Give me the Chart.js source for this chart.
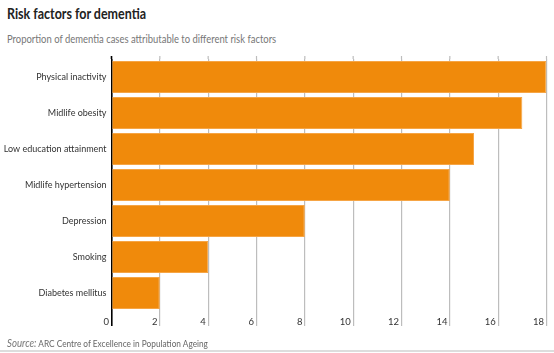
<!DOCTYPE html>
<html><head><meta charset="utf-8">
<script src="https://cdn.jsdelivr.net/npm/chart.js@4"></script>
<style>
html,body{margin:0;padding:0;background:#fff;}
body{width:554px;height:353px;position:relative;overflow:hidden;font-family:Lato,sans-serif;}
#title{position:absolute;left:7px;top:5px;font-size:14.5px;font-weight:bold;color:#222;transform:scaleX(0.86);transform-origin:0 0;white-space:nowrap;}
#sub{position:absolute;left:7px;top:33px;font-size:10.5px;color:#777;transform:scaleX(0.9);transform-origin:0 0;white-space:nowrap;}
#src{position:absolute;left:7px;top:337px;font-size:9px;color:#666;transform:scaleX(0.92);transform-origin:0 0;white-space:nowrap;}
#src i{font-size:10.5px;color:#777;}
#line{position:absolute;left:0;top:350px;width:554px;height:2px;background:#ddd;}
canvas{position:absolute;left:0;top:0;}
</style></head><body>
<div id="title">Risk factors for dementia</div>
<div id="sub">Proportion of dementia cases attributable to different risk factors</div>
<div style="position:absolute;left:0;top:0;width:554px;height:353px"><canvas id="c"></canvas></div>
<div id="src"><i>Source:</i> ARC Centre of Excellence in Population Ageing</div>
<div id="line"></div>
<script>
const categories = ["Physical inactivity","Midlife obesity","Low education attainment","Midlife hypertension","Depression","Smoking","Diabetes mellitus"];
const values = [18, 17, 15, 14, 8, 4, 2];
const xTicks = [0,2,4,6,8,10,12,14,16,18];
const FONT = 'Lato, sans-serif';

const gridTopExtension = {
  id: 'gridTopExtension',
  beforeDatasetsDraw(chart) {
    const x = chart.scales.x, top = chart.chartArea.top, ctx = chart.ctx;
    ctx.save();
    xTicks.forEach(v => {
      const px = x.getPixelForValue(v);
      ctx.beginPath();
      ctx.strokeStyle = v === 0 ? '#000' : '#bdbdbd';
      ctx.lineWidth = v === 0 ? 1.6 : 1.2;
      ctx.moveTo(px, top - 3);
      ctx.lineTo(px, top);
      ctx.stroke();
    });
    ctx.restore();
  }
};

new Chart(document.getElementById('c'), {
  type: 'bar',
  data: { labels: categories, datasets: [{ data: values, backgroundColor: '#f08a0b', borderColor: '#f6a545', borderWidth: 1, barPercentage: 0.89, categoryPercentage: 1 }] },
  options: {
    indexAxis: 'y', responsive: true, maintainAspectRatio: false, animation: false,
    layout: { padding: { top: 59, right: 7.5, left: 0, bottom: 0 } },
    plugins: { legend: { display: false }, tooltip: { enabled: false } },
    scales: {
      x: {
        min: 0, max: 18,
        afterBuildTicks: s => { s.ticks = xTicks.map(v => ({ value: v })); },
        afterFit: s => { s.height = 42; },
        border: { display: false },
        grid: {
          color: c => (c.tick && c.tick.value === 0) ? '#000' : '#bdbdbd',
          lineWidth: c => (c.tick && c.tick.value === 0) ? 1.6 : 1.2,
          tickLength: 15
        },
        ticks: { align: 'end', padding: -10, color: '#333', font: { family: FONT, size: 9.5 }, maxRotation: 0, callback: v => v + ' ' }
      },
      y: {
        afterFit: s => { s.width = 111.5; },
        border: { display: false },
        grid: { display: false, drawTicks: false },
        ticks: { padding: 5, color: '#333', font: { family: FONT, size: 9 } }
      }
    }
  },
  plugins: [gridTopExtension]
});
</script>
</body></html>
